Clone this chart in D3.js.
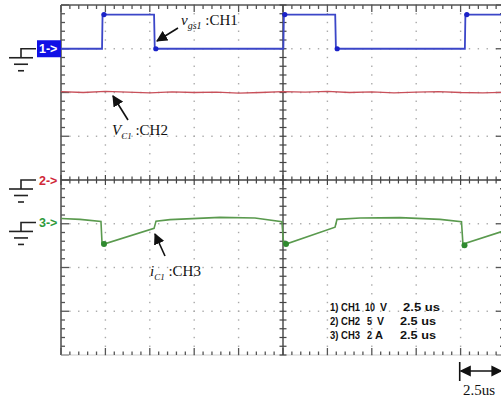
<!DOCTYPE html>
<html>
<head>
<meta charset="utf-8">
<script src="https://cdn.jsdelivr.net/npm/d3@7"></script>
<style>
  html, body { margin: 0; padding: 0; background: #fff; }
  svg { display: block; }
</style>
</head>
<body>
<div id="scope"></div>
<script>
// Scope capture: CH1 gate pulse, CH2 capacitor voltage, CH3 capacitor current

/* ── Data (time in us, values in channel units) ── */
const CH1_TIME = [0, 2.31, 2.34, 5.24, 5.28, 12.52, 12.55, 15.44, 15.48, 22.74, 22.77, 25];
const CH1_VOLT = [0, 0, 7.8, 7.8, 0, 0, 7.8, 7.8, 0, 0, 7.8, 7.8];
const CH1_DOTS_T = [2.42, 5.34, 12.6, 15.55, 22.85];
const CH1_DOTS_V = [7.8, 0, 7.8, 0, 7.8];

const CH2_TIME = [0, 1.25, 2.5, 3.75, 5, 6.25, 7.5, 8.75, 10, 11.25, 12.5, 13.75, 15, 16.25, 17.5, 18.75, 20, 21.25, 22.5, 23.75, 25];
const CH2_VOLT = [10.1, 10.0, 10.12, 10.04, 9.96, 10.08, 10.0, 10.05, 9.94, 10.0, 10.1, 10.04, 10.12, 10.0, 10.08, 9.96, 10.04, 10.1, 10.0, 9.96, 10.04];

const CH3_TIME = [0, 1.07, 2.25, 2.31, 2.42, 5.24, 5.35, 6.14, 8.95, 10.92, 12.44, 12.53, 12.67, 15.43, 15.54, 16.84, 19.09, 21.34, 22.55, 22.64, 22.83, 24.77, 25];
const CH3_AMP  = [0.18, 0.14, 0.04, -0.94, -0.99, -0.27, 0.06, 0.13, 0.23, 0.2, 0.03, -0.94, -0.99, -0.22, 0.14, 0.2, 0.22, 0.14, 0.03, -1.1, -0.94, -0.43, -0.39];
const CH3_DOTS_T = [2.42, 12.67, 22.72];
const CH3_DOTS_A = [-0.99, -0.99, -1.04];

const CHANNELS = [
  { id: "1", perDiv: 10, offset: 3,     color: "#3b46c8", label: "#1010e6" },
  { id: "2", perDiv: 5,  offset: 0,     color: "#c8505a", label: "#d02838" },
  { id: "3", perDiv: 2,  offset: -0.97, color: "#5a9a4e", label: "#2e9a3a" },
];
const LEGEND_ROWS = [
  ["1) CH1", "10", "V", "2.5 us"],
  ["2) CH2", "5",  "V", "2.5 us"],
  ["3) CH3", "2",  "A", "2.5 us"],
];

/* ── Layout ── */
const W = 501, H = 401;
const L = 61, R = 505, T = 5, B = 355;

const svg = d3.select("#scope").append("svg").attr("width", W).attr("height", H);

const x = d3.scaleLinear().domain([0, 25]).range([L, R]);
const yDiv = d3.scaleLinear().domain([-4, 4]).range([B, T]);
const yOf = (ch, v) => yDiv(v / ch.perDiv + ch.offset);

/* ── Graticule ── */
const grid = svg.append("g");
const xMinor = d3.range(0, 50.001, 1).map(i => L + i * (R - L) / 50);
const yMinor = d3.range(0, 40.001, 1).map(i => T + i * (B - T) / 40);
const xMajor = d3.range(1, 10).map(i => L + i * (R - L) / 10);
const yMajor = d3.range(1, 8).map(i => T + i * (B - T) / 8);
const gridCol = "#a8a8a8";

// dotted lines: dots at each minor step along every major line
xMajor.forEach((gx, i) => {
  if (i === 4) return;
  grid.selectAll(null).data(yMinor).join("rect")
    .attr("x", gx - 0.7).attr("y", d => d - 0.7).attr("width", 1.4).attr("height", 1.4)
    .attr("fill", gridCol);
});
yMajor.forEach((gy, i) => {
  if (i === 3) return;
  grid.selectAll(null).data(xMinor).join("rect")
    .attr("x", d => d - 0.7).attr("y", gy - 0.7).attr("width", 1.4).attr("height", 1.4)
    .attr("fill", gridCol);
});

const axisCol = "#555";
const isMajorX = (i) => i % 5 === 0;

// left border
grid.append("line").attr("x1", L).attr("x2", L).attr("y1", T).attr("y2", B)
  .attr("stroke", axisCol).attr("stroke-width", 1.6);
grid.selectAll(null).data(yMinor).join("line")
  .attr("x1", L).attr("x2", (d, i) => L + (i % 5 === 0 ? 8 : 4))
  .attr("y1", d => d).attr("y2", d => d)
  .attr("stroke", axisCol).attr("stroke-width", 1.3);
// right border (mostly off the picture)
grid.selectAll(null).data(yMinor).join("line")
  .attr("x1", R).attr("x2", (d, i) => R - (i % 5 === 0 ? 9 : 5))
  .attr("y1", d => d).attr("y2", d => d)
  .attr("stroke", axisCol).attr("stroke-width", 1.3);
// top border
grid.append("line").attr("x1", L).attr("x2", R).attr("y1", T).attr("y2", T)
  .attr("stroke", axisCol).attr("stroke-width", 1.3);
grid.selectAll(null).data(xMinor).join("line")
  .attr("x1", d => d).attr("x2", d => d)
  .attr("y1", T).attr("y2", (d, i) => T + (isMajorX(i) ? 7 : 4))
  .attr("stroke", axisCol).attr("stroke-width", 1.3);
// bottom border
grid.append("line").attr("x1", L).attr("x2", R).attr("y1", B).attr("y2", B)
  .attr("stroke", "#cfcfcf").attr("stroke-width", 1);
grid.selectAll(null).data(xMinor).join("line")
  .attr("x1", d => d).attr("x2", d => d)
  .attr("y1", B).attr("y2", (d, i) => B - (isMajorX(i) ? 7 : 3.5))
  .attr("stroke", axisCol).attr("stroke-width", 1.3);
// centre axes
const cx = x(12.5), cy = yDiv(0);
grid.append("line").attr("x1", cx).attr("x2", cx).attr("y1", T).attr("y2", B)
  .attr("stroke", "#444").attr("stroke-width", 1.4);
grid.selectAll(null).data(yMinor).join("line")
  .attr("x1", cx - 3.5).attr("x2", cx + 3.5)
  .attr("y1", d => d).attr("y2", d => d)
  .attr("stroke", "#444").attr("stroke-width", 1.2);
grid.append("line").attr("x1", L).attr("x2", R).attr("y1", cy).attr("y2", cy)
  .attr("stroke", "#444").attr("stroke-width", 1.4);
grid.selectAll(null).data(xMinor).join("line")
  .attr("x1", d => d).attr("x2", d => d)
  .attr("y1", (d, i) => cy - (isMajorX(i) ? 5 : 3.5)).attr("y2", (d, i) => cy + (isMajorX(i) ? 5 : 3.5))
  .attr("stroke", "#444").attr("stroke-width", 1.2);

/* ── Traces ── */
const traces = svg.append("g");
const line = (ch) => d3.line().x(d => x(d[0])).y(d => yOf(ch, d[1]));
const zip = (a, b) => a.map((t, i) => [t, b[i]]);

traces.append("path").datum(zip(CH2_TIME, CH2_VOLT))
  .attr("fill", "none").attr("stroke", CHANNELS[1].color).attr("stroke-width", 1.3)
  .attr("d", line(CHANNELS[1]));

traces.append("path").datum(zip(CH3_TIME, CH3_AMP))
  .attr("fill", "none").attr("stroke", CHANNELS[2].color).attr("stroke-width", 1.6)
  .attr("d", line(CHANNELS[2]));
traces.selectAll(null).data(zip(CH3_DOTS_T, CH3_DOTS_A)).join("circle")
  .attr("cx", d => x(d[0])).attr("cy", d => yOf(CHANNELS[2], d[1])).attr("r", 3)
  .attr("fill", "#2f8a2f");

traces.append("path").datum(zip(CH1_TIME, CH1_VOLT))
  .attr("fill", "none").attr("stroke", CHANNELS[0].color).attr("stroke-width", 1.8)
  .attr("d", line(CHANNELS[0]));
traces.selectAll(null).data(zip(CH1_DOTS_T, CH1_DOTS_V)).join("circle")
  .attr("cx", d => x(d[0])).attr("cy", d => yOf(CHANNELS[0], d[1])).attr("r", 2.6)
  .attr("fill", "#1a22c8");

/* ── Channel markers with ground symbols ── */
const marks = svg.append("g");
CHANNELS.forEach(ch => {
  const gy = yDiv(ch.offset);
  const gnd = marks.append("g").attr("stroke", "#222").attr("stroke-width", 1.6);
  gnd.append("polyline").attr("fill", "none")
    .attr("points", `36,${gy} 21,${gy} 21,${gy + 9}`);
  gnd.append("line").attr("x1", 9).attr("x2", 33).attr("y1", gy + 9).attr("y2", gy + 9);
  gnd.append("line").attr("x1", 14).attr("x2", 28).attr("y1", gy + 15.5).attr("y2", gy + 15.5);
  gnd.append("line").attr("x1", 18).attr("x2", 24).attr("y1", gy + 22).attr("y2", gy + 22);

  if (ch.id === "1") {
    marks.append("rect").attr("x", 37).attr("y", gy - 8.5).attr("width", 24).attr("height", 17)
      .attr("fill", ch.label);
  }
  marks.append("text").attr("x", 39).attr("y", gy + 4.5)
    .attr("font-family", "Liberation Sans, Arial, sans-serif").attr("font-weight", "bold")
    .attr("font-size", 12.5).attr("fill", ch.id === "1" ? "#fff" : ch.label)
    .text(`${ch.id}->`);
});

/* ── Annotations ── */
const ann = svg.append("g").attr("font-family", "Liberation Serif, Times New Roman, serif").attr("fill", "#111");
const defs = svg.append("defs");
defs.append("marker").attr("id", "head")
  .attr("viewBox", "0 0 10 10").attr("refX", 9).attr("refY", 5)
  .attr("markerWidth", 7).attr("markerHeight", 7).attr("orient", "auto")
  .append("path").attr("d", "M0,0 L10,5 L0,10 z").attr("fill", "#111");
defs.append("marker").attr("id", "headL")
  .attr("viewBox", "0 0 10 10").attr("refX", 1).attr("refY", 5)
  .attr("markerWidth", 7).attr("markerHeight", 7).attr("orient", "auto")
  .append("path").attr("d", "M10,0 L0,5 L10,10 z").attr("fill", "#111");

function label(x0, y0, main, sub, rest, subSize) {
  const t = ann.append("text").attr("x", x0).attr("y", y0).attr("font-size", 15);
  t.append("tspan").attr("font-style", "italic").text(main);
  t.append("tspan").attr("font-style", "italic").attr("font-size", subSize).attr("dy", 4).text(sub);
  t.append("tspan").attr("dy", -4).text(rest);
}
function arrow(x1, y1, x2, y2) {
  ann.append("line").attr("x1", x1).attr("y1", y1).attr("x2", x2).attr("y2", y2)
    .attr("stroke", "#111").attr("stroke-width", 1.6).attr("marker-end", "url(#head)");
}

label(181, 25, "v", "gs1", " :CH1", 10);
arrow(178, 28, 157, 41);
label(112, 135, "V", "C1", " :CH2", 9);
arrow(128, 120, 113, 96);
label(150, 276, "i", "C1", " :CH3", 9);
arrow(165, 256, 155, 234);

/* ── Settings legend (condensed bold) ── */
const leg = svg.append("g")
  .attr("font-family", "Liberation Sans, Arial, sans-serif")
  .attr("font-weight", "bold").attr("font-size", 11.5).attr("fill", "#111");
const colX = [[330, 365, 380, 403], [330, 367, 377, 400], [330, 367, 375, 400]];
const colW = [[30, 10, 7, 37], [30, 5, 7, 36], [30, 5, 8, 36]];
LEGEND_ROWS.forEach((row, r) => {
  row.forEach((s, c) => {
    leg.append("text").attr("x", colX[r][c]).attr("y", 311 + r * 14)
      .attr("textLength", colW[r][c]).attr("lengthAdjust", "spacingAndGlyphs")
      .text(s);
  });
});

/* ── Time scale bar ── */
const sb = svg.append("g");
const sx0 = x(22.45), sx1 = x(24.8);
sb.append("line").attr("x1", sx0).attr("x2", sx0).attr("y1", 362).attr("y2", 381)
  .attr("stroke", "#111").attr("stroke-width", 1.6);
sb.append("line").attr("x1", sx0 + 1).attr("x2", sx1).attr("y1", 371).attr("y2", 371)
  .attr("stroke", "#111").attr("stroke-width", 1.6)
  .attr("marker-start", "url(#headL)").attr("marker-end", "url(#head)");
sb.append("text").attr("x", 463).attr("y", 395)
  .attr("font-family", "Liberation Serif, Times New Roman, serif").attr("font-size", 15)
  .attr("fill", "#111").text("2.5us");
</script>
</body>
</html>
